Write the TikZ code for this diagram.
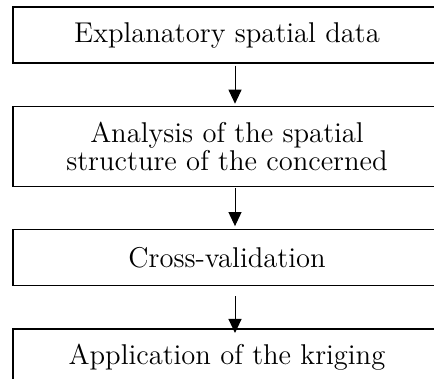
\documentclass[tikz,border=0pt]{standalone}
\usepackage{tikz}
\usetikzlibrary{arrows.meta}
\usetikzlibrary{positioning}

\begin{document}
\begin{tikzpicture}[node distance=21pt,
   stage/.style={draw, line width=0.7pt, minimum width=214pt, minimum height=28pt,
      align=center, inner sep=0pt, font=\fontsize{14.3}{11.5}\selectfont},
   flow/.style={-{Triangle[length=7pt,width=6.5pt]}, line width=0.5pt}]
\useasboundingbox (0,0) rectangle (217pt,-189.5pt);
\clip (0,0) rectangle (217pt,-189.5pt);
\node[stage] (data) at (113.5pt,-17.5pt) {Explanatory spatial data};
\node[stage, minimum height=40pt, below=of data] (analysis) {Analysis of the spatial\\structure of the concerned};
\node[stage, below=of analysis] (cross) {Cross-validation};
\node[stage, below=of cross] (kriging) {Application of the kriging};
\draw[flow, shorten <=1pt, shorten >=1pt] ([xshift=4pt]data.south) -- ([xshift=4pt]analysis.north);
\draw[flow, shorten <=0.5pt, shorten >=1.5pt] ([xshift=4pt]analysis.south) -- ([xshift=4pt]cross.north);
\draw[flow, shorten <=5pt, shorten >=-2.25pt] ([xshift=4pt]cross.south) -- ([xshift=4pt]kriging.north);
\end{tikzpicture}
\end{document}
